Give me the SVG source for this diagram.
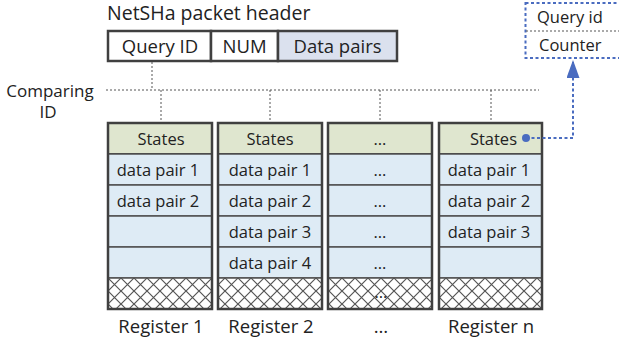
<svg xmlns="http://www.w3.org/2000/svg" width="619" height="347" viewBox="0 0 619 347">
<style>
text{font-family:"Open Sans","Noto Sans","Liberation Sans",sans-serif;fill:#222}
.t20{font-size:19.5px}
.t19{font-size:18.5px}
.t17{font-size:17px}
.t16{font-size:16.5px}
.mid{text-anchor:middle}
.col{fill:none;stroke:#404040;stroke-width:2.5}
.st{fill:#dfe6cf;stroke:#404040;stroke-width:2}
.dp{fill:#deebf5;stroke:#505050;stroke-width:1.5}
.hx{fill:url(#hatch);stroke:#505050;stroke-width:1.5}
.dot{fill:none;stroke:#555;stroke-width:1;stroke-dasharray:2,2}
.blue{fill:none;stroke:#4a6cc0;stroke-width:2;stroke-dasharray:3,2.5}
</style>
<defs>
<pattern id="hatch" patternUnits="userSpaceOnUse" width="13" height="13" x="108" y="278">
<rect width="13" height="13" fill="#fff"/>
<path d="M0,0 L13,13 M13,0 L0,13" stroke="#555" stroke-width="1.2"/>
</pattern>
<marker id="arr" markerWidth="18" markerHeight="13" refX="16" refY="6.5" orient="auto" markerUnits="userSpaceOnUse" viewBox="0 0 18 13">
<path d="M0,0 L18,6.5 L0,13 Z" fill="#4a6cc0"/>
</marker>
</defs>

<g id="header">
<text class="t20" x="107" y="20">NetSHa packet header</text>
<rect x="108" y="31" width="103" height="30" fill="#fff" stroke="#404040" stroke-width="2.5"/>
<rect x="211" y="31" width="67" height="30" fill="#fff" stroke="#404040" stroke-width="2.5"/>
<rect x="278" y="31" width="119" height="30" fill="#dbe1ee" stroke="#404040" stroke-width="2.5"/>
<text class="t19 mid" x="160" y="52.5">Query ID</text>
<text class="t19 mid" x="244.5" y="52.5">NUM</text>
<text class="t19 mid" x="337.5" y="52.5">Data pairs</text>
</g>

<g id="comparing-label">
<text class="t17 mid" x="50" y="97">Comparing</text>
<text class="t17 mid" x="48" y="118">ID</text>
</g>

<g id="query-box">
<rect x="525.5" y="3" width="100" height="55" class="blue"/>
<line x1="526" y1="31" x2="619" y2="31" class="dot"/>
<text class="t16" x="537" y="23">Query id</text>
<text class="t16" x="539" y="51">Counter</text>
</g>

<g id="register1">
<rect x="108" y="123" width="104" height="31" class="st"/>
<rect x="108" y="154" width="104" height="31" class="dp"/>
<rect x="108" y="185" width="104" height="31" class="dp"/>
<rect x="108" y="216" width="104" height="31" class="dp"/>
<rect x="108" y="247" width="104" height="31" class="dp"/>
<rect x="108" y="278" width="104" height="31" class="hx"/>
<rect x="108" y="123" width="104" height="186" class="col"/>
<text class="t16 mid" x="161" y="145">States</text>
<text class="t16 mid" x="158" y="176">data pair 1</text>
<text class="t16 mid" x="158" y="207">data pair 2</text>
<text class="t19 mid" x="161" y="332.5">Register 1</text>
</g>

<g id="register2">
<rect x="218" y="123" width="104" height="31" class="st"/>
<rect x="218" y="154" width="104" height="31" class="dp"/>
<rect x="218" y="185" width="104" height="31" class="dp"/>
<rect x="218" y="216" width="104" height="31" class="dp"/>
<rect x="218" y="247" width="104" height="31" class="dp"/>
<rect x="218" y="278" width="104" height="31" class="hx"/>
<rect x="218" y="123" width="104" height="186" class="col"/>
<text class="t16 mid" x="270" y="145">States</text>
<text class="t16 mid" x="270" y="176">data pair 1</text>
<text class="t16 mid" x="270" y="207">data pair 2</text>
<text class="t16 mid" x="270" y="238">data pair 3</text>
<text class="t16 mid" x="270" y="269">data pair 4</text>
<text class="t19 mid" x="271" y="332.5">Register 2</text>
</g>

<g id="register-ellipsis">
<rect x="328" y="123" width="104" height="31" class="st"/>
<rect x="328" y="154" width="104" height="31" class="dp"/>
<rect x="328" y="185" width="104" height="31" class="dp"/>
<rect x="328" y="216" width="104" height="31" class="dp"/>
<rect x="328" y="247" width="104" height="31" class="dp"/>
<rect x="328" y="278" width="104" height="31" class="hx"/>
<rect x="328" y="123" width="104" height="186" class="col"/>
<text class="t16 mid" x="380" y="145">…</text>
<text class="t16 mid" x="380" y="176">…</text>
<text class="t16 mid" x="380" y="207">…</text>
<text class="t16 mid" x="380" y="238">…</text>
<text class="t16 mid" x="380" y="269">…</text>
<text class="t16 mid" x="381" y="298">…</text>
<text class="t19 mid" x="381" y="332.5">…</text>
</g>

<g id="registern">
<rect x="439" y="123" width="103" height="31" class="st"/>
<rect x="439" y="154" width="103" height="31" class="dp"/>
<rect x="439" y="185" width="103" height="31" class="dp"/>
<rect x="439" y="216" width="103" height="31" class="dp"/>
<rect x="439" y="247" width="103" height="31" class="dp"/>
<rect x="439" y="278" width="103" height="31" class="hx"/>
<rect x="439" y="123" width="103" height="186" class="col"/>
<text class="t16" x="517" y="145" text-anchor="end">States</text>
<text class="t16 mid" x="489" y="176">data pair 1</text>
<text class="t16 mid" x="489" y="207">data pair 2</text>
<text class="t16 mid" x="489" y="238">data pair 3</text>
<text class="t19 mid" x="491" y="332.5">Register n</text>
</g>

<g id="connectors">
<line x1="152" y1="62" x2="152" y2="90" class="dot"/>
<line x1="106" y1="90" x2="539" y2="90" class="dot"/>
<line x1="161" y1="90" x2="161" y2="122" class="dot"/>
<line x1="270" y1="90" x2="270" y2="122" class="dot"/>
<line x1="380" y1="90" x2="380" y2="122" class="dot"/>
<line x1="491" y1="90" x2="491" y2="122" class="dot"/>
<circle cx="526" cy="138" r="4" fill="#4a6cc0"/>
<polyline points="526,138 573,138 573,62" class="blue" marker-end="url(#arr)"/>
</g>
</svg>
